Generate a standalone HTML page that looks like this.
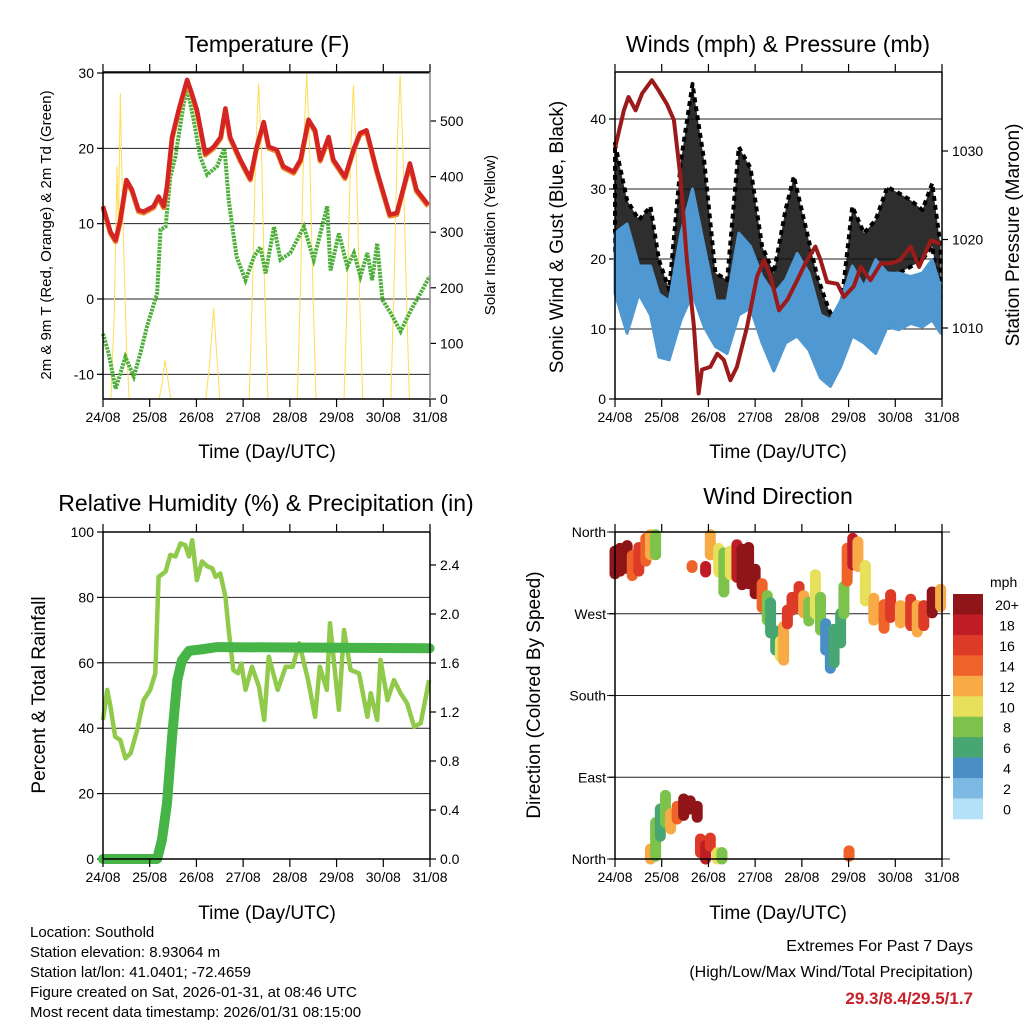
<!DOCTYPE html>
<html><head><meta charset="utf-8"><style>
html,body{margin:0;padding:0;background:#fff}
svg{display:block;font-family:"Liberation Sans",sans-serif}
</style></head><body>
<svg id="c" width="1024" height="1024" viewBox="0 0 1024 1024" xmlns="http://www.w3.org/2000/svg">
<g id="texts">
<text x="267" y="52" font-size="23" text-anchor="middle">Temperature (F)</text>
<text x="778" y="52" font-size="23" text-anchor="middle">Winds (mph) &amp; Pressure (mb)</text>
<text x="266" y="511" font-size="23" text-anchor="middle">Relative Humidity (%) &amp; Precipitation (in)</text>
<text x="778" y="504" font-size="23" text-anchor="middle">Wind Direction</text>
<text x="267" y="458" font-size="19" text-anchor="middle">Time (Day/UTC)</text>
<text x="778" y="458" font-size="19" text-anchor="middle">Time (Day/UTC)</text>
<text x="267" y="919" font-size="19" text-anchor="middle">Time (Day/UTC)</text>
<text x="778" y="919" font-size="19" text-anchor="middle">Time (Day/UTC)</text>
<text transform="translate(51,235) rotate(-90)" font-size="15" text-anchor="middle">2m &amp; 9m T (Red, Orange) &amp; 2m Td (Green)</text>
<text transform="translate(495,235) rotate(-90)" font-size="15" text-anchor="middle">Solar Insolation (Yellow)</text>
<text transform="translate(563,237) rotate(-90)" font-size="19" text-anchor="middle">Sonic Wind &amp; Gust (Blue, Black)</text>
<text transform="translate(1019,235) rotate(-90)" font-size="19" text-anchor="middle">Station Pressure (Maroon)</text>
<text transform="translate(45,695) rotate(-90)" font-size="19" text-anchor="middle">Percent &amp; Total Rainfall</text>
<text transform="translate(540,695) rotate(-90)" font-size="19" text-anchor="middle">Direction (Colored By Speed)</text>
<g font-size="15">
<text x="30" y="937">Location: Southold</text>
<text x="30" y="957">Station elevation: 8.93064 m</text>
<text x="30" y="977">Station lat/lon: 41.0401; -72.4659</text>
<text x="30" y="997">Figure created on Sat, 2026-01-31, at 08:46 UTC</text>
<text x="30" y="1017">Most recent data timestamp: 2026/01/31 08:15:00</text>
</g>
<text x="973" y="951" font-size="16" text-anchor="end">Extremes For Past 7 Days</text>
<text x="973" y="977" font-size="16" text-anchor="end">(High/Low/Max Wind/Total Precipitation)</text>
<text x="973" y="1004" font-size="17" font-weight="bold" fill="#c8202a" text-anchor="end">29.3/8.4/29.5/1.7</text>
</g>
</svg>
<script>
const dayLabels=['24/08','25/08','26/08','27/08','28/08','29/08','30/08','31/08'];
// Temperature panel
const tempT=[0,0.16,0.27,0.37,0.5,0.62,0.76,0.87,1.08,1.19,1.3,1.37,1.48,1.62,1.8,1.9,2.01,2.19,2.37,2.52,2.62,2.72,2.94,3.15,3.29,3.44,3.55,3.72,3.86,4.08,4.23,4.4,4.54,4.65,4.83,4.93,5.18,5.36,5.5,5.64,5.86,6.14,6.29,6.57,6.71,6.96];
const tempV=[12.3,8.9,7.8,10.5,15.8,14.5,11.8,11.6,12.3,13.6,12.3,14.9,21.5,25.1,29.1,27.3,25.1,19.3,20.2,21.5,25.3,21.5,18.5,16,20.2,23.5,20.2,19.8,17.6,16.9,18.5,23.8,22.4,18.5,21.5,18.5,16.2,19.8,22,22.4,17.1,11.2,11.4,18,14.5,12.5];
const dewT=[0,0.12,0.27,0.37,0.48,0.66,0.8,0.94,1.16,1.23,1.34,1.44,1.55,1.73,1.81,1.94,2.08,2.23,2.44,2.6,2.69,2.79,2.86,3.05,3.23,3.37,3.48,3.66,3.8,4.01,4.3,4.51,4.8,4.87,5.05,5.23,5.37,5.51,5.66,5.76,5.87,5.98,6.16,6.37,6.59,6.8,6.99];
const dewV=[-4.6,-7.2,-11.9,-9.9,-7.7,-10.3,-7.2,-3.7,0.8,9.2,9.6,16.2,18.9,26,27.7,23.8,18.9,16.5,17.6,20,13.1,8.7,5.6,2.5,5.6,6.9,3.4,9.6,5.2,6.1,9.6,5.2,12.3,3.8,8.7,4.3,6.1,3,6.1,2.5,7.4,-0.1,-1.9,-4.3,-1.5,0.8,3];
const solarT=[0.17,0.24,0.3,0.33,0.37,0.41,0.45,0.5,0.56, 1.2,1.27,1.33,1.38,1.45, 2.2,2.28,2.33,2.37,2.41,2.5, 3.13,3.2,3.27,3.33,3.39,3.46,3.53, 4.16,4.23,4.3,4.36,4.42,4.49,4.56, 5.16,5.23,5.3,5.36,5.42,5.49,5.56, 6.16,6.23,6.3,6.36,6.42,6.49,6.56];
const solarV=[0,150,420,300,550,380,250,100,0, 0,30,70,40,0, 0,60,120,163,110,0, 0,200,450,568,450,200,0, 0,210,470,585,460,210,0, 0,190,440,565,440,190,0, 0,200,460,583,450,200,0];
const tempTicks=[30,20,10,0,-10];
const solarTicks=[0,100,200,300,400,500];
// Winds panel
const presT=[0,0.19,0.29,0.44,0.58,0.79,0.94,1.11,1.26,1.4,1.54,1.69,1.79,1.86,2.04,2.19,2.33,2.47,2.61,2.83,3.04,3.19,3.33,3.51,3.69,3.9,4.11,4.29,4.4,4.54,4.76,4.9,5.11,5.26,5.47,5.69,5.9,6.11,6.33,6.51,6.76,6.97];
const presV=[1030.3,1034.6,1036.1,1034.6,1036.5,1038,1036.8,1035.3,1033.5,1027.1,1017.7,1010.2,1002.6,1005.3,1005.6,1007.1,1006.4,1004.1,1005.6,1010.2,1015.8,1017.7,1015.8,1012,1013.2,1015.4,1017.7,1019.2,1017.7,1015.2,1015,1013.5,1014.7,1016.9,1015.4,1017.3,1017.3,1017.7,1019.2,1016.9,1019.9,1019.5];
const windT=[0,0.26,0.51,0.76,0.94,1.16,1.41,1.66,1.91,2.15,2.4,2.65,2.9,3.15,3.4,3.65,3.9,4.15,4.4,4.61,4.83,5.08,5.33,5.58,5.83,6.08,6.33,6.58,6.79,6.97];
const windLow=[15.1,9.4,15,12,6,5.6,11.3,15,10.3,7.5,6.5,12,13,8,4,8,9,7,3,1.8,4.6,9,8,6.5,10.3,9.9,10.8,10.3,11.3,9.4];
const windHigh=[23.7,25,19,19,15,14,23.7,30,21.8,14,14,23.7,21.8,17.5,15,17,20.8,18,12,11.3,14,19,16,19.9,18,18,17.5,18,19.9,16];
const gustT=[0,0.26,0.51,0.76,0.94,1.16,1.41,1.66,1.91,2.15,2.4,2.65,2.9,3.15,3.4,3.65,3.83,4.08,4.33,4.58,4.79,5.08,5.33,5.58,5.83,6.08,6.33,6.58,6.79,6.97];
const gustLow=[20.8,15,18,15,9.4,10.3,18,19.9,15,11.3,10.3,19.9,20.8,15,9.4,14.1,17,16,10.3,5.6,7.5,13.2,14,14,18,18,18.9,19.9,21.8,14];
const gustHigh=[36.5,28.4,25.6,27.5,19.9,15.6,34,45,34,18,17,36,33,21.8,18,27,31.8,24.6,17.5,12.7,10.3,27.5,23.7,25.6,30.3,29.4,28.4,27,30.8,21.8];
const windTicks=[0,10,20,30,40];
const presTicks=[1010,1020,1030];
// Humidity panel
const rhT=[0,0.09,0.16,0.26,0.37,0.48,0.59,0.73,0.87,1.01,1.12,1.19,1.34,1.44,1.55,1.66,1.76,1.84,1.91,2.01,2.12,2.23,2.34,2.41,2.51,2.62,2.69,2.79,2.89,2.96,3.05,3.19,3.34,3.45,3.55,3.74,3.91,4.06,4.2,4.39,4.54,4.64,4.79,4.86,5.05,5.16,5.3,5.48,5.66,5.73,5.87,5.94,6.09,6.23,6.37,6.51,6.66,6.8,6.98];
const rhV=[42.5,51.7,46.6,37.4,36.4,30.8,32.3,39.4,48.6,51.7,56.8,86.3,87.9,93,92.5,96.5,96,92.5,97.5,85.3,91,89.5,88.9,86.3,87.3,80.2,70,57.8,56.8,59.8,51.7,58.8,52.7,42.5,61.9,51.7,58.8,58.8,66,54.7,43.5,58.8,51.7,72.1,45.6,70,57.8,56.8,43.5,50.7,42.5,60.9,48.6,54.7,50.7,47.6,40.5,41.5,54.7,62.9];
const rainT=[0,1.16,1.26,1.37,1.48,1.59,1.69,1.84,2.09,2.44,6.99];
const rainV=[0,0,0.155,0.454,1.0,1.46,1.62,1.7,1.71,1.73,1.72];
const rhTicks=[0,20,40,60,80,100];
const rainTicks=['0.0','0.4','0.8','1.2','1.6','2.0','2.4'];
// Direction panel: time, dir low, dir high, speed
const dirT=[0,0.11,0.26,0.37,0.51,0.66,0.76,0.87,1.65,1.94,2.04,2.22,2.33,2.47,2.61,2.72,2.86,3.0,3.15,3.26,3.33,3.44,3.54,3.61,3.69,3.79,3.94,4.04,4.15,4.29,4.4,4.51,4.61,4.69,4.83,4.9,4.97,5.09,5.2,5.36,5.54,5.76,5.9,6.11,6.33,6.47,6.61,6.79,6.97, 0.76,0.87,0.97,1.08,1.19,1.33,1.47,1.61,1.76,1.83,1.94,2.04,2.19,2.29,5.01];
const dirLow=[314,317,320,312,317,328,335,335,321,316,335,316,294,313,310,302,303,292,277,263,249,230,223,219,259,274,277,271,262,270,252,230,210,216,238,270,306,324,322,284,263,254,266,260,257,250,257,271,278, 0,3,25,40,33,44,48,55,46,7,0,14,0,0,3];
const dirHigh=[339,342,345,334,343,353,357,357,323,322,357,342,337,339,346,341,343,319,303,290,282,251,240,256,274,288,300,290,283,313,288,259,232,253,270,300,342,353,349,323,287,280,291,279,286,279,279,294,297, 11,40,55,70,50,58,66,64,58,22,15,23,7,7,9];
const dirSpeed=[20,20,20,14,16,14,12,7,13,18,11,10,8,10,18,20,20,20,14,8,6,6,10,12,16,16,16,12,8,10,7,3,4,5,5,8,14,18,12,10,12,14,16,12,16,12,16,20,11, 12,7,6,8,11,14,20,20,20,16,18,16,10,8,14];
const speedColors=['#b4e1f8','#7cb9e3','#4a8ec6','#47a672','#7cc24b','#e7e05a','#f7aa46','#ef6229','#dd3a28','#bf1d25','#8f1519'];
const speedLabels=['0','2','4','6','8','10','12','14','16','18','20+'];

const NS='http://www.w3.org/2000/svg';
const svg=document.getElementById('c');
function mk(tag,attrs,parent){const e=document.createElementNS(NS,tag);for(const k in attrs)e.setAttribute(k,attrs[k]);(parent||svg).appendChild(e);return e;}
function panel(name,x0,x1,y0,y1){const g=mk('g',{});return {g,x0,x1,y0,y1,sx:d=>x0+(x1-x0)*d/7};}
function lin(v0,v1,p0,p1){return v=>p0+(v-v0)*(p1-p0)/(v1-v0);}
function pathOf(ts,vs,sx,sy){return ts.map((t,i)=>(i?'L':'M')+sx(t).toFixed(1)+','+sy(vs[i]).toFixed(1)).join('');}
function band(ts,lo,hi,sx,sy){let d=ts.map((t,i)=>(i?'L':'M')+sx(t).toFixed(1)+','+sy(hi[i]).toFixed(1)).join('');for(let i=ts.length-1;i>=0;i--)d+='L'+sx(ts[i]).toFixed(1)+','+sy(lo[i]).toFixed(1);return d+'Z';}
function frame(P,rightColor){
  mk('line',{x1:P.x0,y1:P.y0,x2:P.x1,y2:P.y0,stroke:'#000','stroke-width':1.5},P.g);
  mk('line',{x1:P.x0,y1:P.y1,x2:P.x1,y2:P.y1,stroke:'#000','stroke-width':1.5},P.g);
  mk('line',{x1:P.x0,y1:P.y0,x2:P.x0,y2:P.y1,stroke:'#000','stroke-width':1.5},P.g);
  mk('line',{x1:P.x1,y1:P.y0,x2:P.x1,y2:P.y1,stroke:rightColor||'#000','stroke-width':1.5},P.g);
  dayLabels.forEach((lab,i)=>{const x=P.sx(i);
    mk('line',{x1:x,y1:P.y0-8,x2:x,y2:P.y0,stroke:'#000','stroke-width':1.2},P.g);
    mk('line',{x1:x,y1:P.y1,x2:x,y2:P.y1+8,stroke:'#000','stroke-width':1.2},P.g);
    const t=mk('text',{x:x,y:P.y1+23,'font-size':14,'text-anchor':'middle'},P.g);t.textContent=lab;
    
    });
}
function leftTicks(P,vals,sy,labels,grid){vals.forEach((v,i)=>{const y=sy(v);
  if(grid)mk('line',{x1:P.x0,y1:y,x2:P.x1,y2:y,stroke:'#222','stroke-width':1},P.g);
  mk('line',{x1:P.x0-6,y1:y,x2:P.x0,y2:y,stroke:'#000','stroke-width':1.2},P.g);
  const t=mk('text',{x:P.x0-9,y:y+5,'font-size':14,'text-anchor':'end'},P.g);t.textContent=labels?labels[i]:v;
  
  });}
function rightTicks(P,vals,sy,labels){vals.forEach((v,i)=>{const y=sy(v);
  mk('line',{x1:P.x1,y1:y,x2:P.x1+6,y2:y,stroke:'#000','stroke-width':1.2},P.g);
  const t=mk('text',{x:P.x1+10,y:y+5,'font-size':14,'text-anchor':'start'},P.g);t.textContent=labels?labels[i]:v;
  
  });}

// ---- Temperature
{const P=panel('temperature-panel',103,430,72,399);
 const sy=lin(0,30,299,73), ss=lin(0,500,399,121);
 leftTicks(P,tempTicks,sy,null,true);
 rightTicks(P,solarTicks,ss);
 let e=mk('path',{d:pathOf(solarT,solarV,P.sx,ss),fill:'none',stroke:'#ffdd55','stroke-width':1},P.g);
 
 e=mk('path',{d:pathOf(dewT,dewV,P.sx,sy),fill:'none',stroke:'#4daf3a','stroke-width':4,'stroke-dasharray':'2.5 1'},P.g);
 
 e=mk('path',{d:pathOf(tempT,tempV,P.sx,v=>sy(v)+1.5),fill:'none',stroke:'#f08a2c','stroke-width':5,'stroke-linejoin':'round'},P.g);
 
 e=mk('path',{d:pathOf(tempT,tempV,P.sx,sy),fill:'none',stroke:'#d42424','stroke-width':4.5,'stroke-linejoin':'round'},P.g);
 
 frame(P,'#888');}
// ---- Winds
{const P=panel('winds-panel',615,942,72,399);
 const sy=lin(0,40,399,119), sp=lin(1010,1030,328,151);
 leftTicks(P,windTicks,sy,null,true);
 rightTicks(P,presTicks,sp);
 let e=mk('path',{d:band(gustT,gustLow,gustHigh,P.sx,sy),fill:'#111','fill-opacity':0.88,stroke:'#000','stroke-width':4,'stroke-linejoin':'round','stroke-dasharray':'5 4'},P.g);
 
 e=mk('path',{d:band(windT,windLow,windHigh,P.sx,sy),fill:'#4f98d2',stroke:'#4f98d2','stroke-width':3,'stroke-linejoin':'round'},P.g);
 
 e=mk('path',{d:pathOf(presT,presV,P.sx,sp),fill:'none',stroke:'#9b1a1a','stroke-width':4,'stroke-linejoin':'round'},P.g);
 
 frame(P);}
// ---- Humidity
{const P=panel('humidity-panel',103,430,532,859);
 const sy=lin(0,100,859,532), sr=lin(0,2.4,859,565);
 leftTicks(P,rhTicks,sy,null,true);
 rightTicks(P,rainTicks.map(Number),sr,rainTicks);
 let e=mk('path',{d:pathOf(rhT,rhV,P.sx,sy),fill:'none',stroke:'#8fca4a','stroke-width':4.5,'stroke-linejoin':'round'},P.g);
 
 e=mk('path',{d:pathOf(rainT,rainV,P.sx,sr),fill:'none',stroke:'#47b447','stroke-width':10,'stroke-linejoin':'round','stroke-linecap':'round'},P.g);
 
 frame(P);}
// ---- Direction
{const P=panel('direction-panel',615,942,532,859);
 const sy=lin(0,360,859,532);
 [0,90,180,270,360].forEach(v=>mk('line',{x1:P.x0-8,y1:sy(v),x2:P.x1+8,y2:sy(v),stroke:'#222','stroke-width':1},P.g));
 leftTicks(P,[360,270,180,90,0],sy,['North','West','South','East','North'],false);
 dirT.forEach((t,i)=>{const c=speedColors[Math.min(10,Math.round(dirSpeed[i]/2))];
   const m=mk('line',{x1:P.sx(t),y1:sy(dirLow[i]),x2:P.sx(t),y2:sy(dirHigh[i]),stroke:c,'stroke-width':11,'stroke-linecap':'round'},P.g);
   
   });
 frame(P);
 const cb=mk('g',{},svg);
 const lt=mk('text',{x:990,y:587,'font-size':14},cb);lt.textContent='mph';
 for(let k=0;k<11;k++){const idx=10-k;const y=594+k*20.45;
   const r=mk('rect',{x:953,y:y,width:30,height:20.8,fill:speedColors[idx]},cb);
   
   
   const tx=mk('text',{x:1007,y:y+16,'font-size':14,'text-anchor':'middle'},cb);tx.textContent=speedLabels[idx];
   
   }}
</script>
</body></html>
